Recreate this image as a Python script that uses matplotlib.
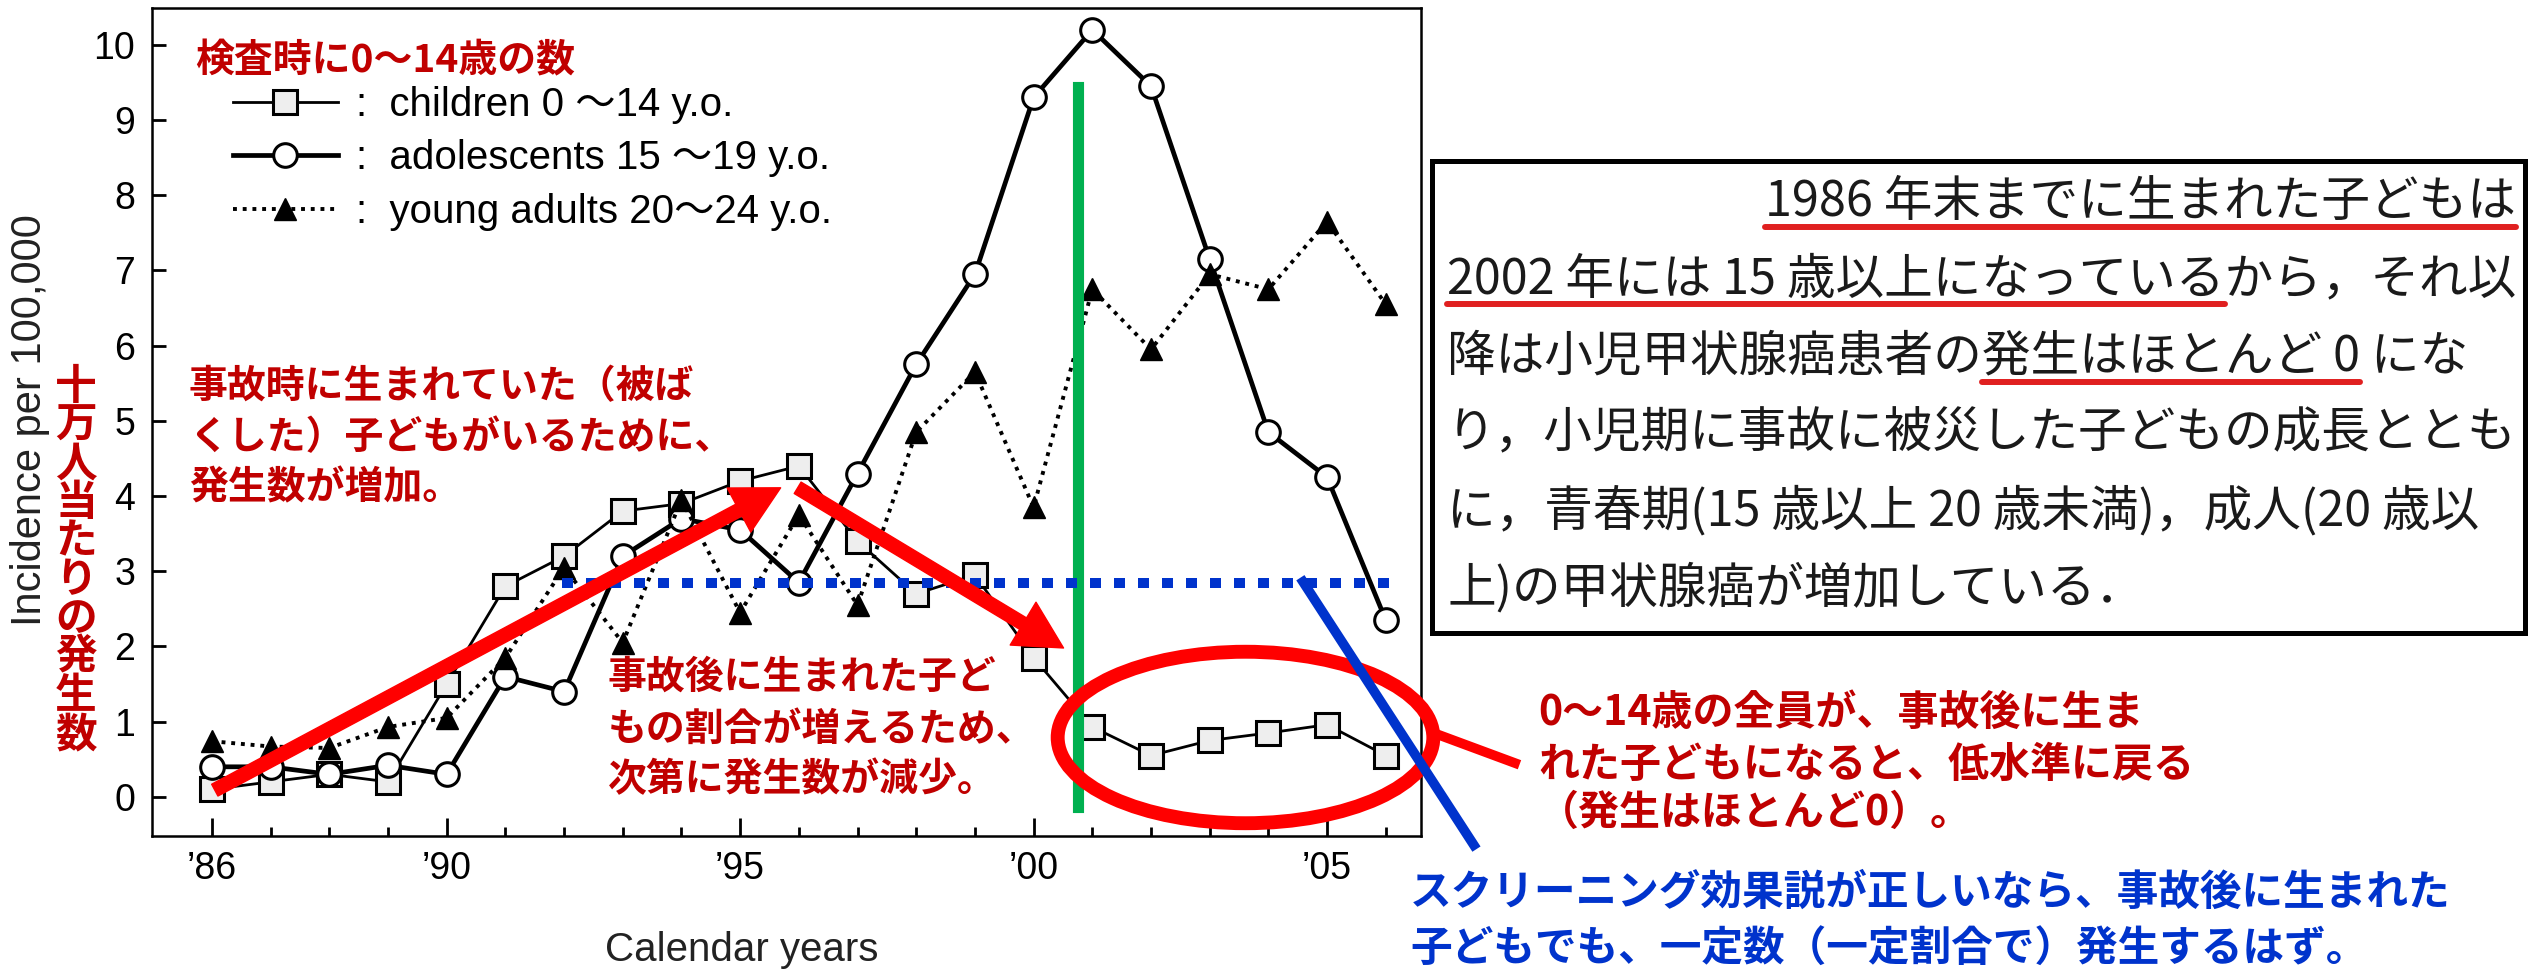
import matplotlib.pyplot as plt
from matplotlib.lines import Line2D
from matplotlib.patches import Ellipse, Rectangle

# incidence per 100,000
years = list(range(1986, 2007))
children = [0.1, 0.2, 0.3, 0.2, 1.5, 2.8, 3.2, 3.8, 3.9, 4.2, 4.4,
            3.4, 2.7, 2.95, 1.85, 0.93, 0.55, 0.75, 0.85, 0.96, 0.55]
adolescents = [0.4, 0.4, 0.3, 0.42, 0.3, 1.6, 1.4, 3.2, 3.7, 3.55, 2.85,
               4.3, 5.75, 6.95, 9.3, 10.2, 9.45, 7.15, 4.85, 4.25, 2.35]
young_adults = [0.74, 0.67, 0.65, 0.93, 1.05, 1.85, 3.05, 2.05, 3.95, 2.45, 3.75,
                2.55, 4.85, 5.65, 3.85, 6.75, 5.95, 6.95, 6.75, 7.65, 6.55]

year_ticks = [1986, 1990, 1995, 2000, 2005]
year_labels = ['’86', '’90', '’95', '’00', '’05']
series_labels = [':  children 0 ～14 y.o.', ':  adolescents 15 ～19 y.o.',
                 ':  young adults 20～24 y.o.']

# overlay marks (data units)
cutoff_year = 2000.75
screening_level = 2.85
screening_span = (1991.97, 2006.12)
arrow_up = ((1986.05, 0.09), (1995.69, 4.11))
arrow_down = ((1995.98, 4.11), (2000.51, 1.98))
low_ellipse = (2003.61, 0.79, 6.4, 2.28)
screen_line = ((2004.59, 2007.5), (2.86, -0.64))
ellipse_link = ((2006.92, 2008.2), (0.82, 0.45))

box_lines = ['1986 年末までに生まれた子どもは',
             '2002 年には 15 歳以上になっているから，それ以',
             '降は小児甲状腺癌患者の発生はほとんど 0 にな',
             'り，小児期に事故に被災した子どもの成長ととも',
             'に，青春期(15 歳以上 20 歳未満)，成人(20 歳以',
             '上)の甲状腺癌が増加している．']

plt.rcParams['font.family'] = ['Liberation Sans', 'Noto Sans CJK JP']
JP = ['Noto Sans CJK JP', 'DejaVu Sans']
DARKRED = '#C00000'
RED = '#FF0000'
BLUE = '#0033CC'

W, H = 2529, 974
fig = plt.figure(figsize=(W / 100, H / 100), dpi=100)
ax = fig.add_axes([152 / W, 1 - 836 / H, (1421 - 152) / W, (836 - 8) / H])


def put(px, py, s, **kw):
    return fig.text(px / W, 1 - py / H, s, **kw)


l1, = ax.plot(years, children, color='black', lw=2, marker='s', ms=17,
              mfc='#eeeeee', mec='black', mew=2.2, zorder=3)
l2, = ax.plot(years, adolescents, color='black', lw=3.4, marker='o', ms=17,
              mfc='white', mec='black', mew=2.2, zorder=3)
l3, = ax.plot(years, young_adults, color='black', lw=2.8, ls=(0, (1, 1.5)),
              marker='^', ms=16, mfc='black', mec='black', zorder=3)

ax.set_xlim(1984.98, 2006.6)
ax.set_ylim(-0.52, 10.49)
ax.set_xticks(year_ticks)
ax.set_xticklabels(year_labels)
ax.set_xticks(years, minor=True)
ax.set_yticks(range(0, 11))
ax.tick_params(axis='x', which='major', direction='in', length=13, width=2,
               pad=11, labelsize=27)
ax.tick_params(axis='x', which='minor', direction='in', length=6.5, width=2)
ax.tick_params(axis='y', direction='in', length=10, width=2, pad=12, labelsize=27)
for s in ax.spines.values():
    s.set_linewidth(1.8)

leg = ax.legend([l1, l2, l3], series_labels, loc='upper left',
                bbox_to_anchor=(233 / W, 1 - 86 / H), bbox_transform=fig.transFigure,
                frameon=False, prop=dict(size=29), handlelength=2.6,
                handletextpad=0.45, labelspacing=0.38, borderpad=0, borderaxespad=0)

# overlays
ax.plot([cutoff_year, cutoff_year], [-0.13, 9.44], color='#00B050', lw=8, zorder=4)
ax.add_patch(Ellipse(low_ellipse[:2], low_ellipse[2], low_ellipse[3], fill=False,
                     ec=RED, lw=10, clip_on=False, zorder=5))
ax.plot(ellipse_link[0], ellipse_link[1], color=RED, lw=7, clip_on=False, zorder=5)
ax.hlines(screening_level, *screening_span, colors=BLUE, lw=7.2,
          linestyles=(0, (1.1, 1.3)), zorder=6)
ax.plot(screen_line[0], screen_line[1], color=BLUE, lw=7, clip_on=False, zorder=6)
for tail, tip in (arrow_up, arrow_down):
    ax.annotate('', xy=tip, xytext=tail,
                arrowprops=dict(arrowstyle='simple,head_length=0.85,head_width=0.9,tail_width=0.24',
                                mutation_scale=40, color=RED, shrinkA=0, shrinkB=0),
                zorder=7)

# axis titles
put(30, 420, 'Incidence per 100,000', rotation=90, ha='center', va='center',
    fontsize=30, color='#222222')
put(76, 561, '\n'.join('十万人当たりの発生数'), ha='center', va='center',
    fontsize=30, fontweight='bold', color=DARKRED, family=JP, linespacing=0.9)
put(742, 950, 'Calendar years', ha='center', va='center', fontsize=29, color='#222222')
put(195, 61, '検査時に0～14歳の数', ha='left', va='center', fontsize=28,
    fontweight='bold', color=DARKRED, family=JP)

# annotations
notes = [
    (189, [387, 438, 488], ['事故時に生まれていた（被ば', 'くした）子どもがいるために、', '発生数が増加。'], DARKRED, 28),
    (608, [677, 729, 780], ['事故後に生まれた子ど', 'もの割合が増えるため、', '次第に発生数が減少。'], DARKRED, 28),
    (1538, [713, 765, 813], ['0～14歳の全員が、事故後に生ま', 'れた子どもになると、低水準に戻る', '（発生はほとんど0）。'], DARKRED, 29.5),
    (1410, [893, 950], ['スクリーニング効果説が正しいなら、事故後に生まれた', '子どもでも、一定数（一定割合で）発生するはず。'], BLUE, 30),
]
for x, ys, lines, col, size in notes:
    for y, line in zip(ys, lines):
        put(x, y, line, ha='left', va='center', fontsize=size, fontweight='bold',
            color=col, family=JP)

# quoted text box
fig.add_artist(Rectangle((1432 / W, 1 - 633 / H), (2525 - 1432) / W, (633 - 161) / H,
                         transform=fig.transFigure, fill=False, ec='black', lw=3.6))
box_kw = dict(va='center', fontsize=35, color='#1a1a1a', family=JP)
texts = []
for i, line in enumerate(box_lines):
    y = 202 + 77.3 * i
    if i == 0:
        texts.append(put(2516, y, line, ha='right', **box_kw))
    else:
        texts.append(put(1447, y, line, ha='left', **box_kw))

renderer = fig.canvas.get_renderer()


def width(s):
    t = put(0, 0, s, ha='left', **box_kw)
    w = t.get_window_extent(renderer).width
    t.remove()
    return w


def underline(x0, x1, py):
    fig.add_artist(Line2D([x0 / W, x1 / W], [1 - py / H, 1 - py / H],
                          transform=fig.transFigure, color='#E02020', lw=4.3,
                          solid_capstyle='round'))


b0 = texts[0].get_window_extent(renderer)
underline(b0.x0, b0.x1, 202 + 25)
b1 = texts[1].get_window_extent(renderer)
underline(b1.x0, b1.x0 + width('2002 年には 15 歳以上になっている'), 202 + 77.3 + 25)
b2 = texts[2].get_window_extent(renderer)
underline(b2.x0 + width('降は小児甲状腺癌患者の'),
          b2.x0 + width('降は小児甲状腺癌患者の発生はほとんど 0'), 202 + 2 * 77.3 + 25)

fig.savefig('out.png', dpi=100)
